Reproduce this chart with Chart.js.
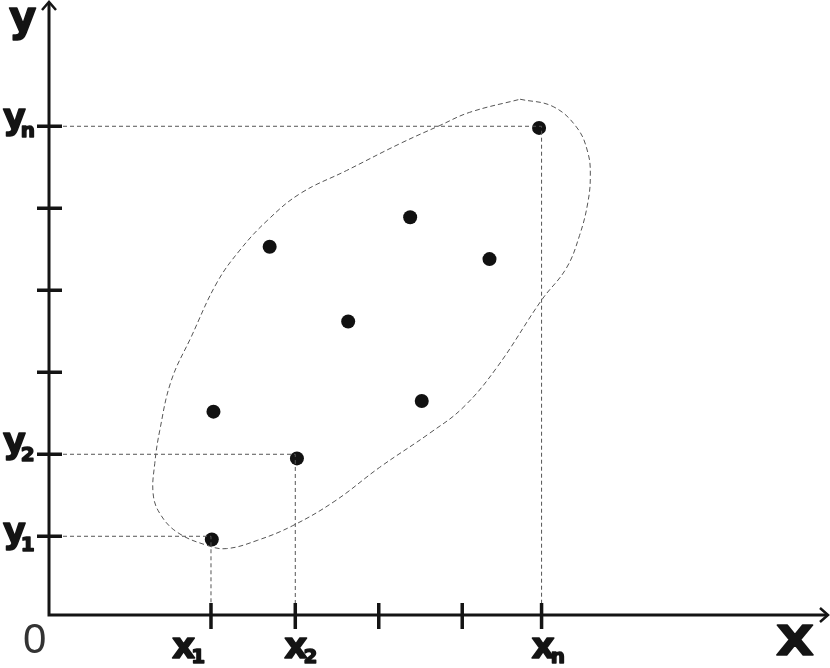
<!DOCTYPE html>
<html>
<head>
<meta charset="utf-8">
<script src="https://cdn.jsdelivr.net/npm/chart.js@4/dist/chart.umd.min.js"></script>
<style>
html, body { margin: 0; padding: 0; background: #fff; }
canvas { display: block; }
</style>
</head>
<body>
<canvas id="chart" width="830" height="668"></canvas>
<script>
// axis ticks and their labels (letter + subscript)
const xTicks = [1, 2.02, 3.03, 4.04, 5]
const xTickLabels = [["x", "1"], ["x", "2"], null, null, ["x", "n"]]
const yTicks = [1, 2, 3, 4, 5, 6]
const yTickLabels = [["y", "1"], ["y", "2"], null, null, null, ["y", "n"]]

// sample points
const pointsX = [1.01, 2.04, 1.03, 1.71, 2.66, 3.41, 3.55, 4.37, 4.97]
const pointsY = [0.96, 1.95, 2.52, 4.53, 3.62, 4.89, 2.65, 4.38, 5.98]

// dashed guide corners (x1,y1), (x2,y2), (xn,yn)
const guideX = [1, 2.02, 5]
const guideY = [1, 2, 6]

// closed dashed outline around the cloud
const outlineX = [4.74, 5.14, 5.43, 5.56, 5.59, 5.56, 5.46, 5.30, 5.00, 4.46, 4.05, 3.65, 3.04, 2.50, 1.99, 1.56, 1.19, 0.95, 0.59, 0.38, 0.30, 0.32, 0.38, 0.52, 0.76, 1.07, 1.35, 1.68, 2.08, 2.64, 3.29, 3.77, 4.13, 4.74]
const outlineY = [6.33, 6.24, 5.98, 5.68, 5.40, 5.07, 4.67, 4.27, 3.88, 3.06, 2.57, 2.26, 1.84, 1.43, 1.13, 0.95, 0.85, 0.89, 1.05, 1.28, 1.52, 1.89, 2.29, 2.90, 3.43, 4.09, 4.49, 4.85, 5.18, 5.46, 5.79, 6.01, 6.17, 6.33]

const xMin = -0.96, xMax = 8.49
const yMin = 0.04, yMax = 7.54

const ink = "#141414"

const guideSets = guideX.map((gx, i) => ({
    data: [{x: xMin, y: guideY[i]}, {x: gx, y: guideY[i]}, {x: gx, y: yMin}],
    showLine: true,
    borderColor: "#555",
    borderWidth: 1,
    borderDash: [4, 3],
    pointRadius: 0,
    tension: 0
}))

// heavy text: fill plus a thin stroke to get the black-weight look
function heavyText(ctx, text, x, y, font, stroke) {
    ctx.font = font
    ctx.lineWidth = stroke
    ctx.lineJoin = "round"
    ctx.fillText(text, x, y)
    ctx.strokeText(text, x, y)
    return ctx.measureText(text).width
}

const axesPlugin = {
    id: "axes",
    afterDatasetsDraw(chart) {
        const ctx = chart.ctx
        const xs = chart.scales.x
        const ys = chart.scales.y
        const ox = xs.getPixelForValue(xMin)
        const oy = ys.getPixelForValue(yMin)
        ctx.save()
        ctx.strokeStyle = ink
        ctx.fillStyle = ink

        // axis lines
        ctx.lineWidth = 3
        ctx.lineJoin = "miter"
        ctx.beginPath()
        ctx.moveTo(ox, 3)
        ctx.lineTo(ox, oy)
        ctx.lineTo(827, oy)
        ctx.stroke()

        // arrow heads
        ctx.lineWidth = 2.5
        ctx.beginPath()
        ctx.moveTo(ox - 7, 10)
        ctx.lineTo(ox, 2)
        ctx.lineTo(ox + 7, 10)
        ctx.moveTo(820, oy - 7)
        ctx.lineTo(828, oy)
        ctx.lineTo(820, oy + 7)
        ctx.stroke()

        // crossing tick marks
        ctx.lineWidth = 3.5
        ctx.beginPath()
        xTicks.forEach(v => {
            const px = xs.getPixelForValue(v)
            ctx.moveTo(px, oy - 12)
            ctx.lineTo(px, oy + 14)
        })
        yTicks.forEach(v => {
            const py = ys.getPixelForValue(v)
            ctx.moveTo(ox - 12, py)
            ctx.lineTo(ox + 13, py)
        })
        ctx.stroke()

        // tick labels
        const xShift = [-39, -11, 0, 0, -10]
        ctx.textAlign = "left"
        ctx.textBaseline = "alphabetic"
        xTickLabels.forEach((lab, i) => {
            if (!lab) return
            const px = xs.getPixelForValue(xTicks[i]) + xShift[i]
            const w = heavyText(ctx, lab[0], px, 658, "bold 36px 'DejaVu Sans'", 1.5)
            heavyText(ctx, lab[1], px + w - 4, 663, "bold 20px 'DejaVu Sans'", 1.5)
        })
        const yShift = [7, -1, 0, 0, 0, 3]
        yTickLabels.forEach((lab, i) => {
            if (!lab) return
            const py = ys.getPixelForValue(yTicks[i]) + yShift[i]
            const w = heavyText(ctx, lab[0], 3, py, "bold 35px 'DejaVu Sans'", 1.5)
            heavyText(ctx, lab[1], 3 + w - 5, py + 8, "bold 20px 'DejaVu Sans'", 1.5)
        })

        // origin and axis titles
        ctx.fillStyle = "#333"
        ctx.font = "42px 'Liberation Sans'"
        ctx.fillText("0", 23, 653)
        ctx.fillStyle = ink
        heavyText(ctx, "y", 9, 31, "bold 42px 'DejaVu Sans'", 1.5)
        ctx.translate(776, 655)
        ctx.scale(1.2, 1)
        heavyText(ctx, "X", 0, 0, "bold 41px 'DejaVu Sans'", 1.5)
        ctx.restore()
    }
}

const ctx = document.getElementById("chart").getContext("2d")

new Chart(ctx, {
    type: "scatter",
    data: {
        datasets: [
            ...guideSets,
            {
                data: outlineX.map((x, i) => ({x: x, y: outlineY[i]})),
                showLine: true,
                borderColor: "#555",
                borderWidth: 1,
                borderDash: [5, 3],
                pointRadius: 0,
                tension: 0.4
            },
            {
                data: pointsX.map((x, i) => ({x: x, y: pointsY[i]})),
                pointRadius: 7,
                pointBackgroundColor: "#111",
                pointBorderWidth: 0,
                showLine: false
            }
        ]
    },
    options: {
        responsive: false,
        animation: false,
        layout: {
            autoPadding: false,
            padding: {left: 49, right: 0, top: 0, bottom: 53}
        },
        scales: {
            x: {type: "linear", min: xMin, max: xMax, display: false},
            y: {type: "linear", min: yMin, max: yMax, display: false}
        },
        plugins: {
            legend: {display: false},
            tooltip: {enabled: false}
        }
    },
    plugins: [axesPlugin]
})
</script>
</body>
</html>
